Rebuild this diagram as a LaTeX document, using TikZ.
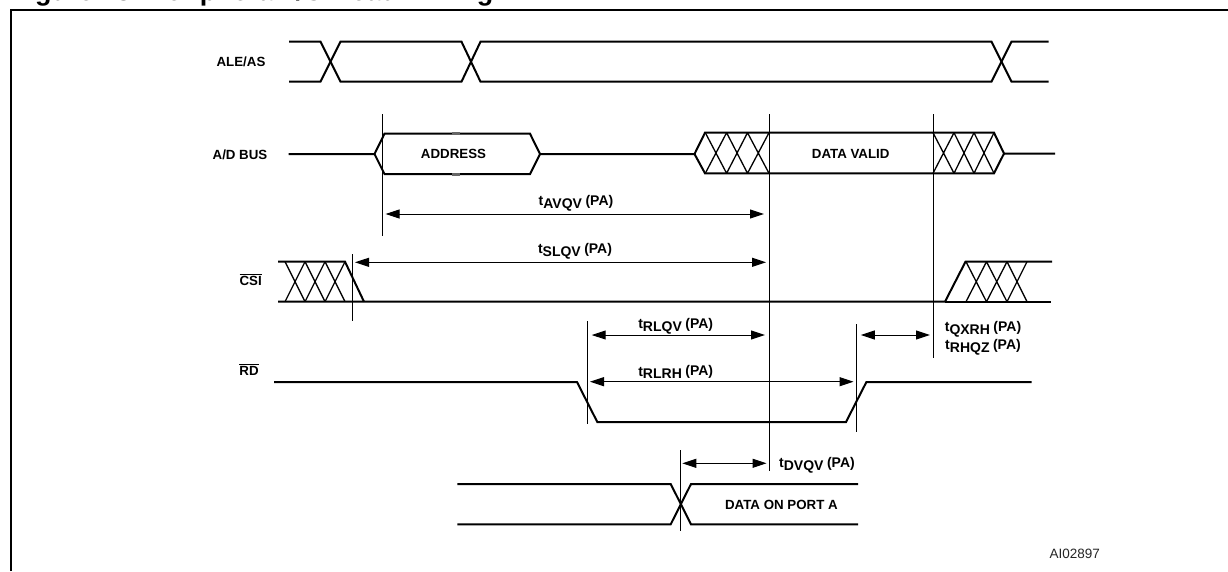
\documentclass[tikz,border=0pt]{standalone}
\usepackage{fontspec}
\setmainfont{Liberation Sans}
\usetikzlibrary{arrows.meta}
\tikzset{
  sig/.style={line width=2pt,line join=miter,line cap=butt},
  hatch/.style={line width=1.3pt},
  vref/.style={line width=1pt},
  span/.style={line width=1pt,{Triangle[length=14pt,width=9pt]}-{Triangle[length=14pt,width=9pt]}},
  lab/.style={font=\fontsize{13.3}{16}\selectfont\bfseries,inner sep=0pt,text=black},
  tim/.style={font=\fontsize{14}{16}\selectfont\bfseries,inner sep=0pt,text=black},
}
\newcommand{\tlab}[1]{t\raisebox{-2.5pt}{#1}\hspace{3.5pt}\raisebox{0.5pt}{(PA)}}
\begin{document}
\begin{tikzpicture}[x=1pt,y=-1pt]
\useasboundingbox (0,0) rectangle (1228,571);
\fill[white] (0,0) rectangle (1228,571);
% title (cut by the page edge) and frame
\node[anchor=base west,inner sep=0pt,font=\fontsize{27}{30}\selectfont\bfseries] (title) at (11,0.5) {Figure 43. Peripheral I/O Read Timing};
\draw[line width=2pt] (11,571) -- (11,10) -- (1228,10);
% ALE/AS
\node[lab] (ale) at (241,62) {ALE/AS};
\draw[sig] (289,41.7) -- (320.5,41.7) -- (340.5,81.7) -- (461.5,81.7) -- (480.5,41.7) -- (991.5,41.7) -- (1011.5,81.7) -- (1048.5,81.7);
\draw[sig] (289,81.7) -- (320.5,81.7) -- (340.5,41.7) -- (461.5,41.7) -- (480.5,81.7) -- (991.5,81.7) -- (1011.5,41.7) -- (1048.5,41.7);
% A/D BUS
\node[lab] (adbus) at (240,155) {A/D BUS};
\draw[sig] (288.5,154) -- (374.5,154) -- (384.5,133.7) -- (530,133.7) -- (540,154) -- (694.5,154) -- (705,132.7) -- (994,132.7) -- (1004,153.5) -- (1055,153.5);
\draw[sig] (374.5,154) -- (384.5,174) -- (530,174) -- (540,154);
\draw[sig] (694.5,154) -- (705,173.3) -- (994,173.3) -- (1004,153.5);
\draw[line width=3pt,gray!80!black] (452,133.7) -- (460,133.7) (452,174) -- (460,174);
\draw[hatch] (705.3,132.7) -- (726.6,173.3) (726.6,132.7) -- (705.3,173.3)
             (726.6,132.7) -- (747.5,173.3) (747.5,132.7) -- (726.6,173.3)
             (747.5,132.7) -- (769,173.3) (769,132.7) -- (747.5,173.3);
\draw[hatch] (933,132.7) -- (954,173.3) (954,132.7) -- (933,173.3)
             (954,132.7) -- (974,173.3) (974,132.7) -- (954,173.3)
             (974,132.7) -- (994,173.3) (994,132.7) -- (974,173.3);
\node[lab] (addr) at (453.5,154) {ADDRESS};
\node[lab] (dv) at (850.7,154) {DATA VALID};
% CSI
\node[lab] (csi) at (250.7,279.5) {$\overline{\hbox{CSI}}$};
\draw[sig] (278,261.7) -- (345,261.7) -- (364,301.7);
\draw[sig] (278,301.7) -- (945,301.7) -- (965.5,261.7) -- (1052,261.7);
\draw[sig] (945,301.7) -- (1051,301.7);
\draw[hatch] (285,261.7) -- (305,301.7) (305,261.7) -- (285,301.7)
             (305,261.7) -- (325,301.7) (325,261.7) -- (305,301.7)
             (325,261.7) -- (345,301.7) (345,261.7) -- (325,301.7);
\draw[hatch] (966,261.7) -- (986.5,301.7) (986.5,261.7) -- (966,301.7)
             (986.5,261.7) -- (1007,301.7) (1007,261.7) -- (986.5,301.7)
             (1007,261.7) -- (1027,301.7) (1027,261.7) -- (1007,301.7);
% RD
\node[lab] (rd) at (249,369.5) {$\overline{\hbox{RD}}$};
\draw[sig] (274,382) -- (577,382) -- (597.3,422) -- (846,422) -- (866.4,382) -- (1031.5,382);
% data on port A
\draw[sig] (457.3,484) -- (670.7,484) -- (691,524.3) -- (858,524.3);
\draw[sig] (457.3,524.3) -- (670.7,524.3) -- (691,484) -- (858,484);
\node[lab] (dpa) at (781.4,505) {DATA ON PORT A};
% reference lines
\coordinate (v1a) at (382,114.3); \coordinate (v1b) at (382,235.7);
\coordinate (v2a) at (769,114.3); \coordinate (v2b) at (769,471);
\coordinate (v3a) at (933,114.3); \coordinate (v3b) at (933,358);
\coordinate (v4a) at (352.7,254); \coordinate (v4b) at (352.7,320.7);
\coordinate (v5a) at (587.3,321); \coordinate (v5b) at (587.3,424.3);
\coordinate (v6a) at (856.8,324); \coordinate (v6b) at (856.8,431.7);
\coordinate (v7a) at (680.7,450); \coordinate (v7b) at (680.7,530.7);
\draw[vref] (v1a) -- (v1b);
\draw[vref] (v2a) -- (v2b);
\draw[vref] (v3a) -- (v3b);
\draw[vref] (v4a) -- (v4b);
\draw[vref] (v5a) -- (v5b);
\draw[vref] (v6a) -- (v6b);
\draw[vref] (v7a) -- (v7b);
% timing spans
\coordinate (a1a) at (385.5,214); \coordinate (a1b) at (764,214);
\coordinate (a2a) at (355,262.3); \coordinate (a2b) at (766,262.3);
\coordinate (a3a) at (591.7,335); \coordinate (a3b) at (765,335);
\coordinate (a4a) at (590,381.7); \coordinate (a4b) at (853.5,381.7);
\coordinate (a5a) at (860.8,335); \coordinate (a5b) at (930,335);
\coordinate (a6a) at (682.3,463.3); \coordinate (a6b) at (766.5,463.3);
\draw[span] (a1a) -- (a1b);
\draw[span] (a2a) -- (a2b);
\draw[span] (a3a) -- (a3b);
\draw[span] (a4a) -- (a4b);
\draw[span] (a5a) -- (a5b);
\draw[span] (a6a) -- (a6b);
\node[tim] (avqv) at (576,203) {\tlab{AVQV}};
\node[tim] (slqv) at (575,251) {\tlab{SLQV}};
\node[tim] (rlqv) at (675.7,326) {\tlab{RLQV}};
\node[tim] (rlrh) at (675.7,372) {\tlab{RLRH}};
\node[tim] (qxrh) at (983,329) {\tlab{QXRH}};
\node[tim] (rhqz) at (983,347) {\tlab{RHQZ}};
\node[tim] (dvqv) at (817,465) {\tlab{DVQV}};
\node[inner sep=0pt,font=\fontsize{13.5}{16}\selectfont,text=black!85] (code) at (1074.7,554) {AI02897};
\end{tikzpicture}
\end{document}
